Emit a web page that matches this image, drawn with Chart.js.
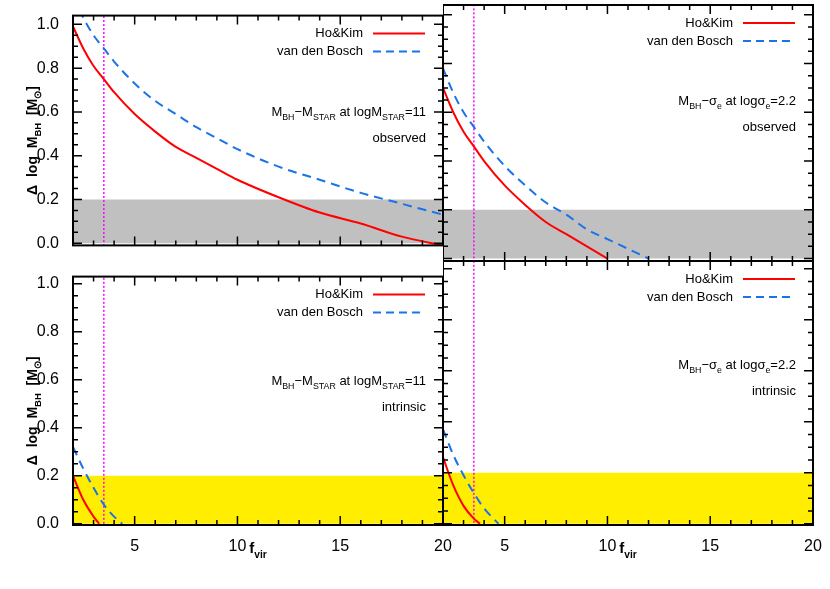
<!DOCTYPE html>
<html><head><meta charset="utf-8">
<script src="https://cdn.jsdelivr.net/npm/chart.js@4"></script>
<style>
body{margin:0;background:#fff;width:830px;height:589px;overflow:hidden}
canvas{position:absolute}
</style></head><body>
<div style="position:relative;width:830px;height:589px">
<canvas id="tl" style="left:0;top:0;width:470px;height:261px"></canvas>
<canvas id="bl" style="left:0;top:261px;width:470px;height:328px"></canvas>
<canvas id="tr" style="left:443px;top:0;width:387px;height:261px"></canvas>
<canvas id="br" style="left:443px;top:261px;width:387px;height:328px"></canvas>
</div>
<script>
const fVirTL = [2,2.5,3,3.5,4,5,6,7,8,9,10,12,14,16,18,20];
const hoKimTL = [0.99,0.89,0.81,0.75,0.69,0.59,0.51,0.44,0.39,0.34,0.29,0.21,0.14,0.09,0.03,-0.01];
const vdbTL = [1.13,1.03,0.95,0.89,0.83,0.73,0.65,0.59,0.53,0.48,0.43,0.35,0.29,0.23,0.18,0.13];
const fVirTRhk = [2,2.5,3,3.5,4,5,6,7,8,9,10];
const hoKimTR = [0.70,0.60,0.52,0.46,0.40,0.30,0.22,0.15,0.10,0.05,0.0];
const fVirTRvdb = [2,2.5,3,3.5,4,5,6,7,8,9,10,12];
const vdbTR = [0.78,0.68,0.60,0.54,0.48,0.38,0.30,0.23,0.18,0.12,0.08,0.0];
const fVirBLhk = [2,2.5,3,3.27];
const hoKimBL = [0.20,0.10,0.03,0.0];
const fVirBLvdb = [2,2.5,3,3.5,4,4.4];
const vdbBL = [0.32,0.23,0.15,0.08,0.03,0.0];
const fVirBRhk = [2,2.5,3,3.5,3.8];
const hoKimBR = [0.26,0.15,0.07,0.02,0.0];
const fVirBRvdb = [2,2.5,3,3.5,4,4.7];
const vdbBR = [0.37,0.27,0.19,0.12,0.06,0.0];
const fVirLine = 3.5;
const bandRange = [0.0, 0.2];
const xTicks = [5,10,15,20];
const yTicks = [0,0.2,0.4,0.6,0.8,1.0];

const FONT = '"Liberation Sans", Arial, sans-serif';
const pts = (xs, ys) => xs.map((x,i)=>({x, y: ys[i]}));

function richText(ctx, parts, x, y, size, align, bold){
  const sub = size*0.68;
  const b = bold?'bold ':'';
  let w = 0;
  parts.forEach(p=>{ctx.font=b+(p[1]==='s'?sub:size)+'px '+FONT; w+=ctx.measureText(p[0]).width;});
  let cx = align==='right'? x-w : align==='center'? x-w/2 : x;
  ctx.textBaseline='alphabetic'; ctx.textAlign='left';
  parts.forEach(p=>{
    const s = p[1]==='s';
    ctx.font=b+(s?sub:size)+'px '+FONT;
    ctx.fillText(p[0], cx, y + (s? size*0.3:0));
    cx += ctx.measureText(p[0]).width;
  });
}

function makePanel(id, o){
  const bottom = o.bottom, left = o.left;
  const framePlugin = {
    id:'frame',
    afterDraw(chart){
      const {ctx, chartArea:a, scales} = chart;
      const xs = scales.x, ys = scales.y;
      ctx.save();
      ctx.strokeStyle='#000'; ctx.lineWidth=2;
      ctx.strokeRect(a.left, a.top, a.right-a.left, a.bottom-a.top);
      ctx.lineWidth=1.5;
      for(let v=2; v<=20; v++){
        const px = xs.getPixelForValue(v);
        const L = (v%5===0)?9:5;
        ctx.beginPath();
        ctx.moveTo(px,a.bottom); ctx.lineTo(px,a.bottom-L);
        ctx.moveTo(px,a.top); ctx.lineTo(px,a.top+L);
        ctx.stroke();
      }
      for(let k=0; k<=20; k++){
        const v=k*0.05; const py = ys.getPixelForValue(v);
        if(py<a.top-1) continue;
        const L = (k%4===0)?9:5;
        ctx.beginPath();
        ctx.moveTo(a.left,py); ctx.lineTo(a.left+L,py);
        ctx.moveTo(a.right,py); ctx.lineTo(a.right-L,py);
        ctx.stroke();
      }
      ctx.fillStyle='#000';
      const lx2 = a.right-18, lx1 = a.right-70, tx = a.right-80;
      const ly1 = a.top+18, ly2 = a.top+36;
      ctx.font='13px '+FONT; ctx.textAlign='right'; ctx.textBaseline='middle';
      ctx.fillText('Ho&Kim', tx, ly1); ctx.fillText('van den Bosch', tx, ly2);
      ctx.lineWidth=2; ctx.strokeStyle='#ff0000';
      ctx.beginPath(); ctx.moveTo(lx1,ly1); ctx.lineTo(lx2,ly1); ctx.stroke();
      ctx.strokeStyle='#1a73e8'; ctx.setLineDash([8,5]);
      ctx.beginPath(); ctx.moveTo(lx1,ly2); ctx.lineTo(lx2,ly2); ctx.stroke();
      ctx.setLineDash([]);
      ctx.fillStyle='#000';
      const ay = a.top + (o.top?100:108);
      richText(ctx, o.label, a.right-17, ay, 13, 'right');
      ctx.font='13px '+FONT; ctx.textAlign='right'; ctx.textBaseline='alphabetic';
      ctx.fillText(o.top?'observed':'intrinsic', a.right-17, ay+26);
      if(left){
        ctx.save();
        ctx.translate(37, (a.top+a.bottom)/2+10);
        ctx.rotate(-Math.PI/2);
        richText(ctx, [['Δ  log  M','n'],['BH','s'],['  [M','n'],['⊙','s'],[']','n']], 0, 0, 14, 'center', true);
        ctx.restore();
      }
      if(bottom){
        richText(ctx, [['f','n'],['vir','s']], (a.left+a.right)/2, a.bottom+28, 15, 'center', true);
      }
      ctx.restore();
    }
  };
  const ds = [
    {data:[{x:2,y:bandRange[1]},{x:20,y:bandRange[1]}], fill:{value:bandRange[0]},
     backgroundColor:o.top?'#c0c0c0':'#ffee00', borderWidth:0, pointRadius:0, order:5},
    {data:pts(o.hkx,o.hk), borderColor:'#ff0000', borderWidth:2, pointRadius:0, fill:false, order:1, cubicInterpolationMode:'monotone'},
    {data:pts(o.vx,o.v), borderColor:'#1a73e8', borderWidth:2, borderDash:[9,6], pointRadius:0, fill:false, order:2, cubicInterpolationMode:'monotone'},
    {data:[{x:fVirLine,y:-1},{x:fVirLine,y:2}], borderColor:'#ff00ff', borderWidth:1.5, borderDash:[2,2], pointRadius:0, fill:false, order:3}
  ];
  new Chart(document.getElementById(id), {
    type:'line',
    data:{datasets:ds},
    options:{
      responsive:false, animation:false, devicePixelRatio:1,
      layout:{padding:{top:o.top?5:0, right:left?27:17, left:0, bottom:0}},
      plugins:{legend:{display:false}, tooltip:{enabled:false}},
      scales:{
        x:{type:'linear', min:2, max:20, display:bottom,
           afterFit(s){s.height=bottom?64:0;},
           afterBuildTicks(s){s.ticks=xTicks.map(v=>({value:v}));},
           grid:{display:false}, border:{display:false},
           ticks:{font:{size:16,family:FONT}, color:'#000', padding:4, maxRotation:0}},
        y:{type:'linear', min:o.top?-0.01:-0.005, max:o.top?1.04:1.03, display:left,
           afterFit(s){s.width=left?73:0;},
           afterBuildTicks(s){s.ticks=yTicks.map(v=>({value:v}));},
           grid:{display:false}, border:{display:false},
           ticks:{font:{size:16,family:FONT}, color:'#000', padding:6, callback:v=>v.toFixed(1)}}
      }
    },
    plugins:[framePlugin]
  });
}
const cv = (id,w,h)=>{const c=document.getElementById(id); c.width=w; c.height=h;};
cv('tl',470,261); cv('bl',470,328); cv('tr',387,261); cv('br',387,328);
const lblStar = [['M','n'],['BH','s'],['−M','n'],['STAR','s'],[' at logM','n'],['STAR','s'],['=11','n']];
const lblSig = [['M','n'],['BH','s'],['−σ','n'],['e','s'],[' at logσ','n'],['e','s'],['=2.2','n']];
makePanel('tl',{top:true,bottom:false,left:true,hkx:fVirTL,hk:hoKimTL,vx:fVirTL,v:vdbTL,label:lblStar});
makePanel('bl',{top:false,bottom:true,left:true,hkx:fVirBLhk,hk:hoKimBL,vx:fVirBLvdb,v:vdbBL,label:lblStar});
makePanel('tr',{top:true,bottom:false,left:false,hkx:fVirTRhk,hk:hoKimTR,vx:fVirTRvdb,v:vdbTR,label:lblSig});
makePanel('br',{top:false,bottom:true,left:false,hkx:fVirBRhk,hk:hoKimBR,vx:fVirBRvdb,v:vdbBR,label:lblSig});
</script></body></html>
